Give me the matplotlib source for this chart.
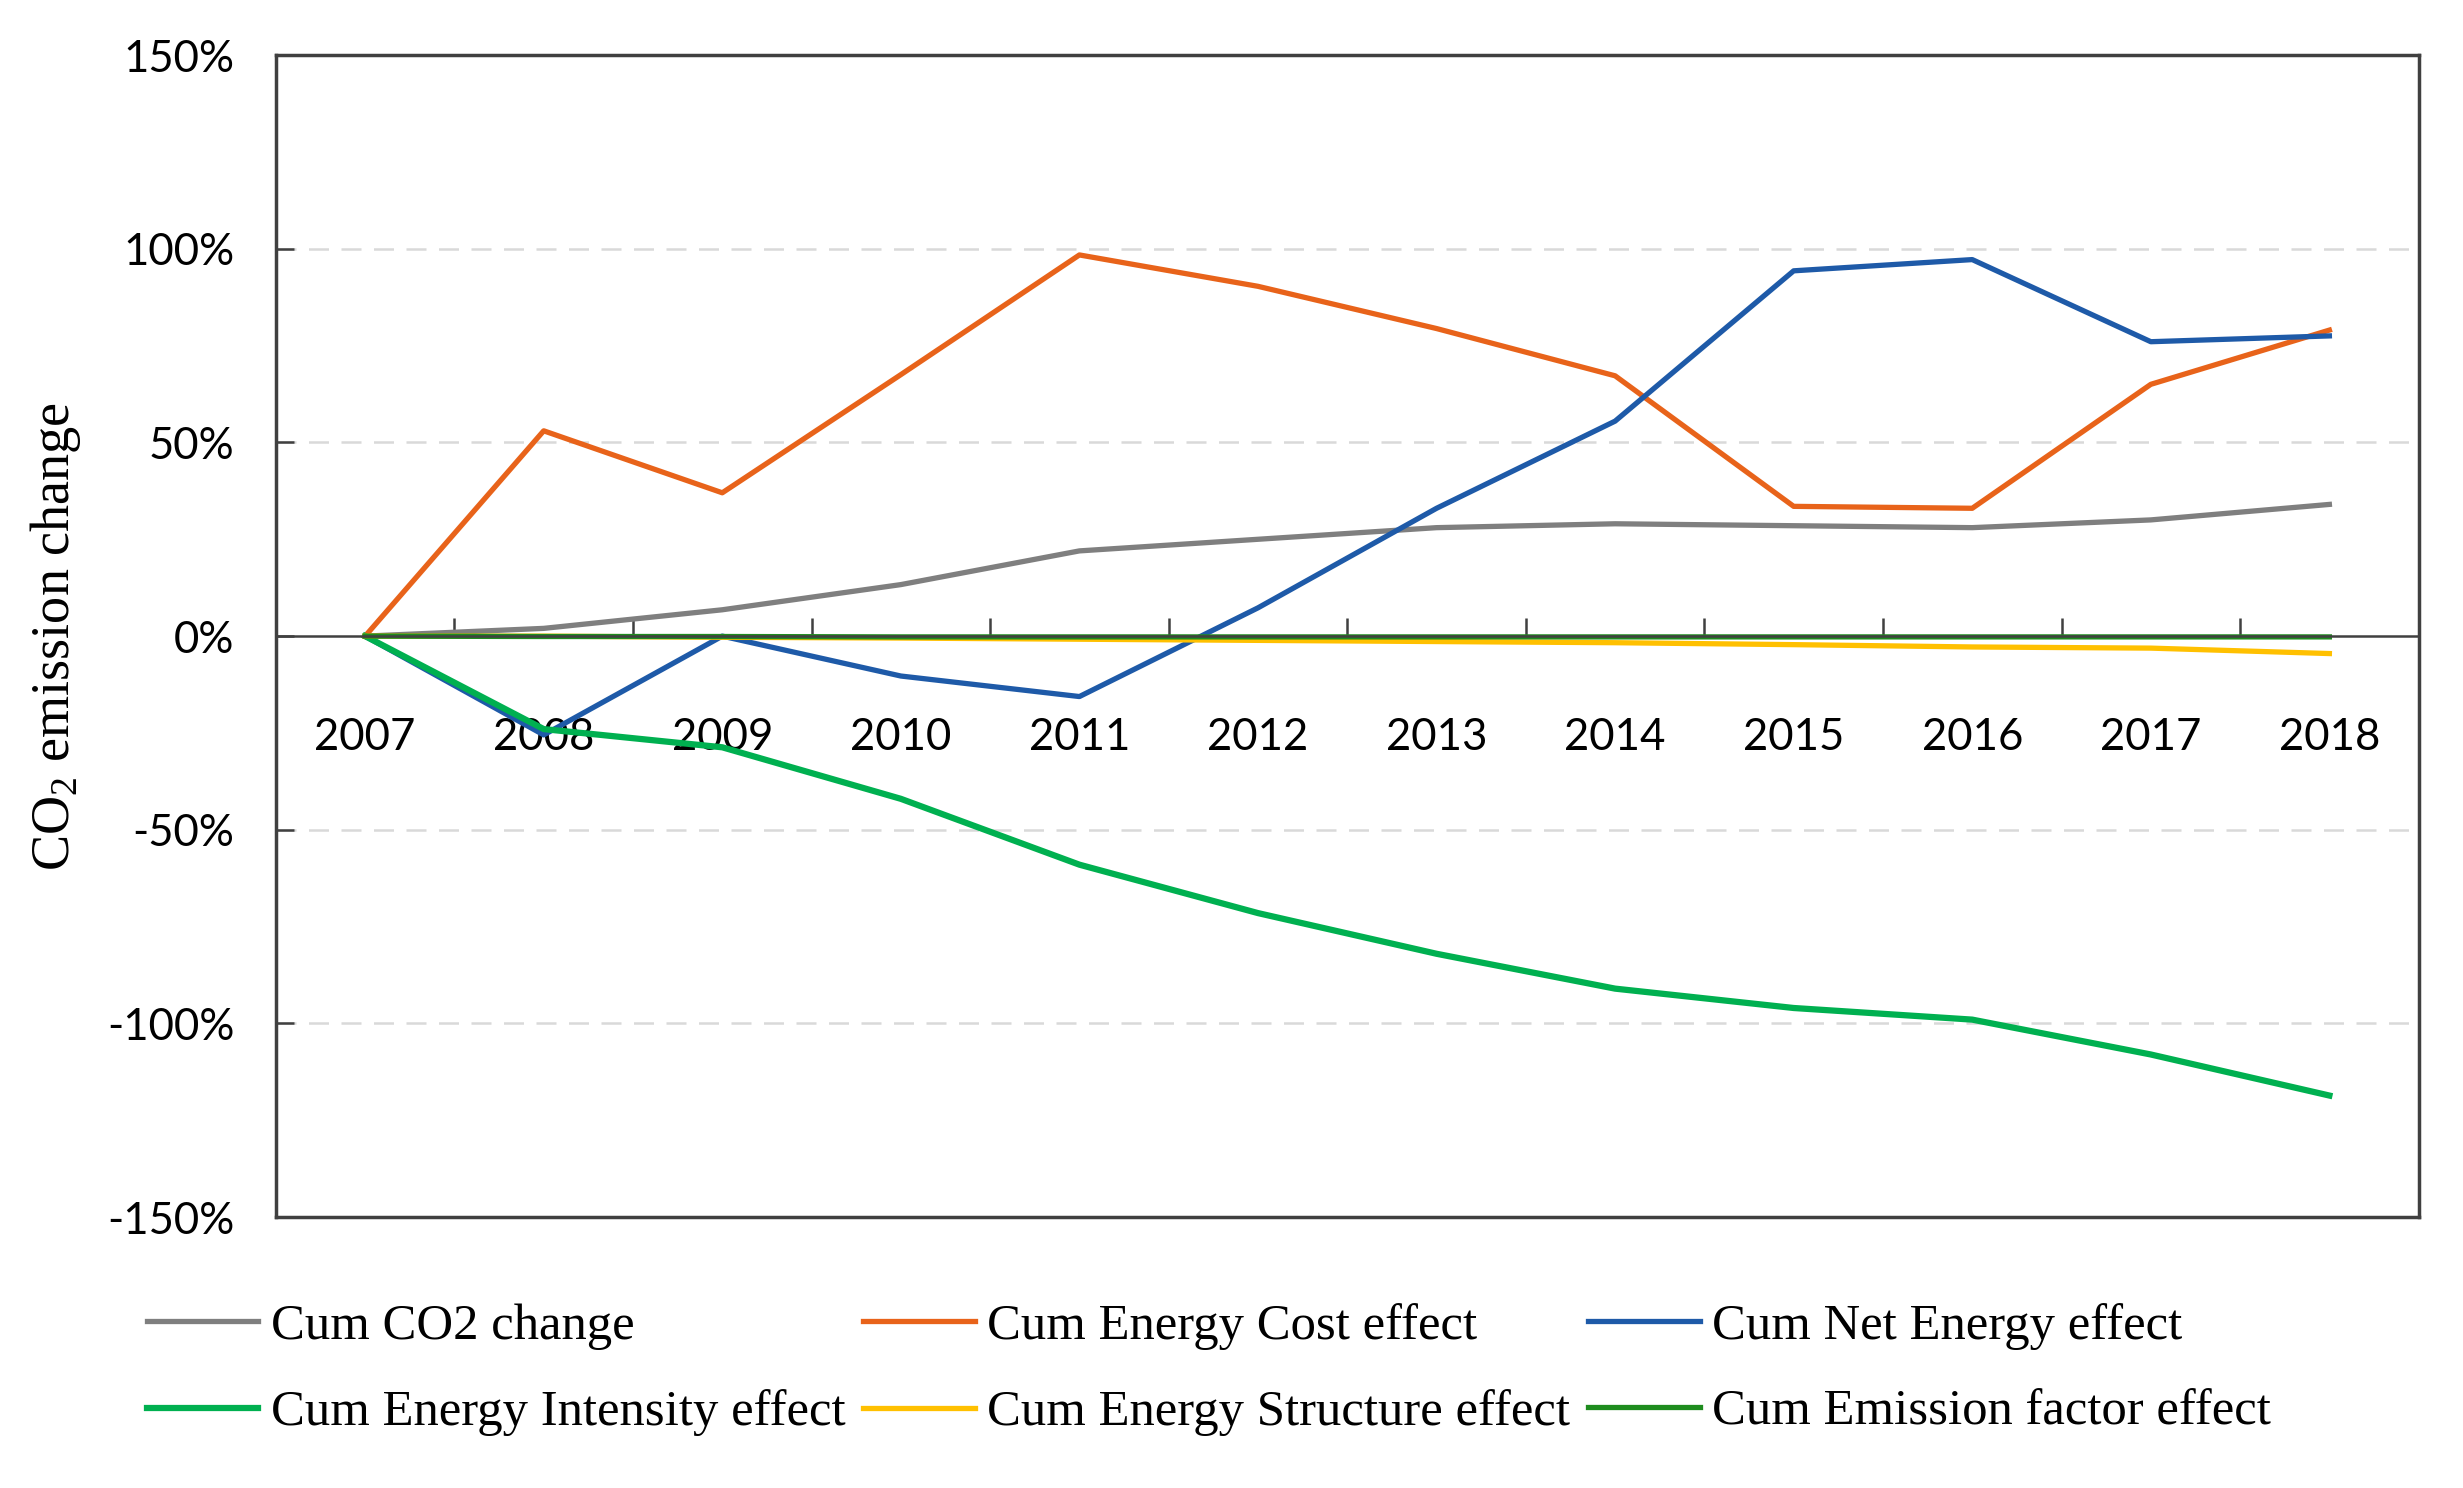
import matplotlib.pyplot as plt
import numpy as np

years = ['2007', '2008', '2009', '2010', '2011', '2012', '2013', '2014', '2015', '2016', '2017', '2018']

# cumulative effects, % change vs 2007
cum_co2 = [0, 2, 6.8, 13.3, 22, 25, 28, 29, 28.5, 28, 30, 34]
cum_cost = [0, 53, 37, 67.5, 98.4, 90.3, 79.4, 67.2, 33.5, 33, 65, 79]
cum_net = [0, -25.5, 0, -10.3, -15.6, 7.3, 33, 55.5, 94.3, 97.2, 76, 77.5]
cum_intensity = [0, -24, -28.7, -42, -59, -71.5, -82, -91, -96, -99, -108, -118.6]
cum_structure = [0, 0, -0.3, -0.5, -0.8, -1.1, -1.4, -1.7, -2.2, -2.8, -3.1, -4.5]
cum_emission = [0, -0.1, -0.1, -0.2, -0.2, -0.2, -0.2, -0.2, -0.2, -0.2, -0.2, -0.2]

yticks = [-150, -100, -50, 0, 50, 100, 150]
ytick_labels = ['-150%', '-100%', '-50%', '0%', '50%', '100%', '150%']

plt.rcParams['mathtext.fontset'] = 'custom'
plt.rcParams['mathtext.rm'] = 'Liberation Serif'

fig = plt.figure(figsize=(24.63, 14.88), dpi=100)
ax = fig.add_axes([0.112, 0.182, 0.87, 0.781])

x = np.arange(len(years))
lw = 3.8
l_co2, = ax.plot(x, cum_co2, color='#7f7f7f', lw=lw, label='Cum CO2 change')
l_cost, = ax.plot(x, cum_cost, color='#E8631A', lw=lw, label='Cum Energy Cost effect')
l_net, = ax.plot(x, cum_net, color='#1E5AA8', lw=lw, label='Cum Net Energy effect')
l_int, = ax.plot(x, cum_intensity, color='#00B050', lw=lw + 0.7, label='Cum Energy Intensity effect')
l_str, = ax.plot(x, cum_structure, color='#FFC000', lw=lw, label='Cum Energy Structure effect')
l_emi, = ax.plot(x, cum_emission, color='#1E8C1E', lw=lw, label='Cum Emission factor effect')

ax.set_xlim(-0.5, len(years) - 0.5)
ax.set_ylim(-150, 150)

# grid lines
for g in [-100, -50, 50, 100]:
    ax.axhline(g, color='#D9D9D9', lw=1.8, ls=(0, (8, 5)), zorder=0)

# x axis crosses at zero
ax.spines['bottom'].set_position(('data', 0))
ax.spines['bottom'].set_color('#404040')
ax.spines['bottom'].set_linewidth(1.8)
ax.axhline(-150, color='#404040', lw=2.5, clip_on=False)
for s in ['left', 'right', 'top']:
    ax.spines[s].set_color('#404040')
    ax.spines[s].set_linewidth(2.5)

ax.set_xticks(np.arange(0.5, len(years) - 1, 1.0))
ax.set_xticklabels([])
ax.set_xticks(x, minor=True)
ax.set_xticklabels(years, minor=True, fontsize=31.5, fontfamily='Lato')
ax.tick_params(axis='x', which='major', direction='in', length=13, width=1.8, color='#404040')
ax.tick_params(axis='x', which='minor', length=0, pad=58)

ax.set_yticks(yticks)
ax.set_yticklabels(ytick_labels, fontsize=31.5, fontfamily='Lato')
ax.tick_params(axis='y', direction='in', length=13, width=1.8, color='#404040', pad=30)

ax.set_ylabel(r'CO$_\mathregular{2}$ emission change', fontsize=39, fontfamily='Liberation Serif')
ax.yaxis.set_label_coords(-0.09, 0.5)

handles = [l_co2, l_int, l_cost, l_str, l_net, l_emi]
fig.legend(handles=handles, labels=[h.get_label() for h in handles], ncol=3,
           loc='upper left', bbox_to_anchor=(0.041, 0.155), frameon=False,
           prop={'family': 'Liberation Serif', 'size': 36.5},
           handlelength=2.2, handletextpad=0.25, columnspacing=0.35, labelspacing=0.78)

fig.savefig('out.png', dpi=100)
